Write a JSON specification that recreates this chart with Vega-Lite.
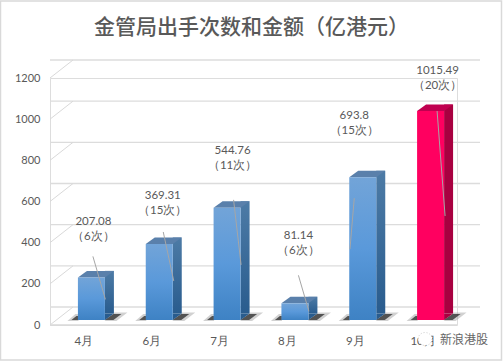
{
"$schema":"https://vega.github.io/schema/vega-lite/v6.json",
"width":407,"height":247,
"autosize":"none",
"padding":{"left":50,"top":78,"right":46,"bottom":36},
"background":"white",
"title":{"text":"金管局出手次数和金额（亿港元）","frame":"group","font":"Noto Sans CJK SC","fontSize":21,"fontWeight":500,"color":"#595959","anchor":"middle","dx":-2,"offset":0,"dy":38},
"datasets":{
"bars":[
{"month":"4月","amount":207.08,"times":6},
{"month":"6月","amount":369.31,"times":15},
{"month":"7月","amount":544.76,"times":11},
{"month":"8月","amount":81.14,"times":6},
{"month":"9月","amount":693.8,"times":15},
{"month":"10月","amount":1015.49,"times":20}],
"ticks":[{"tick":0},{"tick":200},{"tick":400},{"tick":600},{"tick":800},{"tick":1000},{"tick":1200}]
},
"data":{"name":"bars"},
"encoding":{
"x":{"field":"month","type":"nominal","sort":null,"scale":{"paddingInner":0,"paddingOuter":0},"axis":{"title":null,"domain":false,"ticks":false,"labelAngle":0,"labelFont":"Lato","labelFontSize":11.5,"labelColor":"#595959","labelPadding":10}},
"y":{"field":"amount","type":"quantitative","scale":{"domain":[0,1200],"nice":false},"axis":{"title":null,"domain":false,"ticks":false,"grid":false,"values":[0,200,400,600,800,1000,1200],"format":"d","labelFont":"Lato","labelFontSize":11,"labelColor":"#595959","labelPadding":10}}
},
"layer":[
{"data":{"name":"ticks"},"mark":{"type":"rule","color":"#dcdcdc","strokeWidth":1.3,"xOffset":23,"x2Offset":23,"yOffset":-18},"encoding":{"x":null,"y":{"field":"tick","type":"quantitative"}}},
{"data":{"name":"ticks"},"mark":{"type":"rule","color":"#d9d9d9","strokeWidth":1,"y2Offset":-18},"encoding":{"x":{"value":0},"x2":{"value":23},"y":{"field":"tick","type":"quantitative"},"y2":{"field":"tick"}}},
{"data":{"values":[{"tick":0}]},"mark":{"type":"rule","color":"#d9d9d9","strokeWidth":1.3},"encoding":{"x":null,"y":{"field":"tick","type":"quantitative"}}},
{"mark":{"type":"point","filled":true,"size":4,"color":"#999999","opacity":0.45,"xOffset":7.5,"yOffset":-5,"shape":"M-24 1L-16 -6L-13 -6L-13 1Z M13 1L23 -7.5L36 -7.5L25 1Z"},"encoding":{"y":{"datum":0}}},
{"mark":{"type":"point","filled":true,"size":4,"color":"#333333","opacity":0.8,"xOffset":7.5,"yOffset":-5,"shape":"M-20 0L-15 -4L-13 -4L-13 0Z M13 0L22 -6L30 -6L22 0Z"},"encoding":{"y":{"datum":0}}},
{"mark":{"type":"bar","width":9,"xOffset":25.5,"yOffset":-11.5,"y2Offset":-11.5},"encoding":{"y2":{"datum":0},"fill":{"condition":{"test":"datum.month==='10月'","value":"#a80040"},"value":{"x1":0,"y1":0,"x2":0,"y2":1,"gradient":"linear","stops":[{"offset":0,"color":"#4d7ba6"},{"offset":1,"color":"#295c8e"}]}}}},
{"mark":{"type":"point","filled":true,"size":4,"opacity":1,"xOffset":21,"yOffset":-5,"shape":"M0 0L9 -6.5L0 -6.5Z"},"encoding":{"y":{"datum":0},"fill":{"condition":{"test":"datum.month==='10月'","value":"#a80040"},"value":"#295c8e"}}},
{"mark":{"type":"point","filled":true,"size":4,"opacity":1,"xOffset":7.5,"yOffset":-5,"shape":"M-13.5 0L-4.5 -6.5L22.5 -6.5L13.5 0Z"},"encoding":{"fill":{"condition":{"test":"datum.month==='10月'","value":"#c00050"},"value":"#5a80ab"}}},
{"mark":{"type":"bar","width":27,"xOffset":7.5,"yOffset":-5,"y2Offset":-5},"encoding":{"y2":{"datum":0},"fill":{"condition":{"test":"datum.month==='10月'","value":"#ff0060"},"value":{"x1":0,"y1":0,"x2":0,"y2":1,"gradient":"linear","stops":[{"offset":0,"color":"#72a4d8"},{"offset":0.5,"color":"#5a99da"},{"offset":1,"color":"#3e82c4"}]}}}},
{"mark":{"type":"point","filled":false,"size":4,"opacity":1,"stroke":"#a6a6a6","strokeWidth":1,"xOffset":7.5,"yOffset":-5},"encoding":{"shape":{"field":"month","type":"nominal","legend":null,"scale":{"domain":["4月","6月","7月","8月","9月","10月"],"range":["M1.5 -21L14 22","M4 -12L14.5 37","M6.5 -8L14 57","M3.5 -28L14 8","M-8.5 21L-12.8 72","M6.5 0L14.5 105"]}}}},
{"transform":[{"filter":"datum.month==='4月'"}],"mark":{"type":"text","lineHeight":15,"font":"Lato","fontSize":11.5,"color":"#595959","dx":9.5,"dy":-60},"encoding":{"text":{"value":["207.08","（6次）"]}}},
{"transform":[{"filter":"datum.month==='6月'"}],"mark":{"type":"text","lineHeight":15,"font":"Lato","fontSize":11.5,"color":"#595959","dx":11,"dy":-53},"encoding":{"text":{"value":["369.31","（15次）"]}}},
{"transform":[{"filter":"datum.month==='7月'"}],"mark":{"type":"text","lineHeight":15,"font":"Lato","fontSize":11.5,"color":"#595959","dx":13,"dy":-62},"encoding":{"text":{"value":["544.76","（11次）"]}}},
{"transform":[{"filter":"datum.month==='8月'"}],"mark":{"type":"text","lineHeight":15,"font":"Lato","fontSize":11.5,"color":"#595959","dx":11,"dy":-72},"encoding":{"text":{"value":["81.14","（6次）"]}}},
{"transform":[{"filter":"datum.month==='9月'"}],"mark":{"type":"text","lineHeight":15,"font":"Lato","fontSize":11.5,"color":"#595959","dx":-1,"dy":-66},"encoding":{"text":{"value":["693.8","（15次）"]}}},
{"transform":[{"filter":"datum.month==='10月'"}],"mark":{"type":"text","lineHeight":15,"font":"Lato","fontSize":11.5,"color":"#595959","dx":14.5,"dy":-45},"encoding":{"text":{"value":["1015.49","（20次）"]}}},
{"transform":[{"filter":"datum.month==='10月'"}],"mark":{"type":"point","filled":true,"size":4,"fill":"white","opacity":1,"stroke":"#aaaaaa","strokeWidth":0.6,"strokeDash":[1,2],"yOffset":14,"xOffset":2,"shape":"M-7 0A7 6.5 0 1 1 7 0A7 6.5 0 1 1 -7 0Z"},"encoding":{"y":{"datum":0}}},
{"transform":[{"filter":"datum.month==='10月'"}],"mark":{"type":"text","text":"新浪港股","font":"Noto Sans CJK SC","fontSize":12,"color":"#666666","align":"left","dx":17,"dy":15},"encoding":{"y":{"datum":0}}},
{"data":{"values":[{"f":1}]},"mark":{"type":"rect","fill":null,"stroke":"#d9d9d9","strokeWidth":1.5},"encoding":{"x":{"value":-49.5},"x2":{"value":451.5},"y":{"value":-77},"y2":{"value":282}}}
]
}
